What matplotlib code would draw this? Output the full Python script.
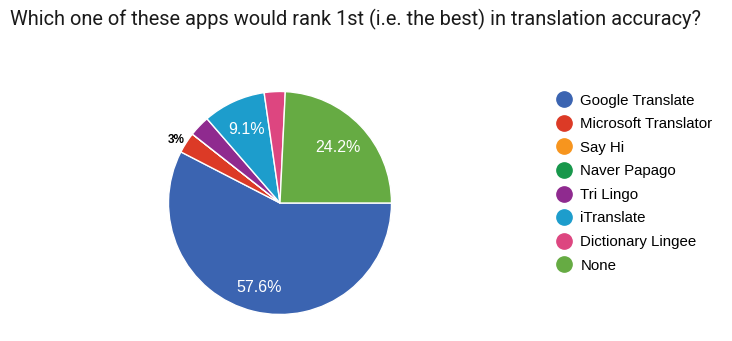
import numpy as np
import matplotlib
matplotlib.use("Agg")
import matplotlib.pyplot as plt
from matplotlib.lines import Line2D

plt.rcParams['font.family'] = ['Liberation Sans', 'DejaVu Sans']

title = "Which one of these apps would rank 1st (i.e. the best) in translation accuracy?"
categories = ["Google Translate", "Microsoft Translator", "Say Hi", "Naver Papago",
              "Tri Lingo", "iTranslate", "Dictionary Lingee", "None"]
counts = [19, 1, 0, 0, 1, 3, 1, 8]
labels = ["57.6%", "3%", "", "", "", "9.1%", "", "24.2%"]
colors = ["#3b64b1", "#dc3a26", "#f7951e", "#17974b", "#8f2a8f", "#1d9dcc", "#dd4680", "#66ab43"]

W, H = 732, 341
fig = plt.figure(figsize=(W / 100, H / 100), dpi=100)
cx, cy, r = 280, 203, 111.5
ax = fig.add_axes([(cx - r) / W, (H - cy - r) / H, 2 * r / W, 2 * r / H])

wedges, _ = ax.pie(counts, colors=colors, startangle=0, counterclock=False, radius=1,
                   wedgeprops=dict(edgecolor="white", linewidth=1.0))
ax.set_xlim(-1, 1)
ax.set_ylim(-1, 1)
ax.set_aspect("equal")
ax.axis("off")

for w, lab in zip(wedges, labels):
    if not lab:
        continue
    mid = np.deg2rad((w.theta1 + w.theta2) / 2)
    frac = (w.theta2 - w.theta1) / 360
    if frac < 0.05:
        d = 1.1
        ax.text(d * np.cos(mid) - 0.01, d * np.sin(mid) - 0.03, lab, ha="center", va="center",
                fontsize=8.5, fontweight="bold", color="black")
    else:
        d = 0.72 if frac < 0.5 else 0.78
        ax.text(d * np.cos(mid), d * np.sin(mid), lab, ha="center", va="center",
                fontsize=11.5, color="white")

fig.text(10 / W, 1 - 19 / H, title, ha="left", va="center", fontsize=14.4,
         color="#1a1a1a", family=["Roboto", "DejaVu Sans"])

handles = [Line2D([], [], marker="o", linestyle="none", markersize=11,
                  markerfacecolor=c, markeredgecolor=c) for c in colors]
fig.legend(handles, categories, loc="upper left", bbox_to_anchor=(554 / W, 1 - 93.5 / H),
           frameon=False, fontsize=10.8, handletextpad=0.45, labelspacing=0.64,
           handlelength=1.3, borderpad=0, borderaxespad=0)

fig.savefig("out.png", dpi=100)
